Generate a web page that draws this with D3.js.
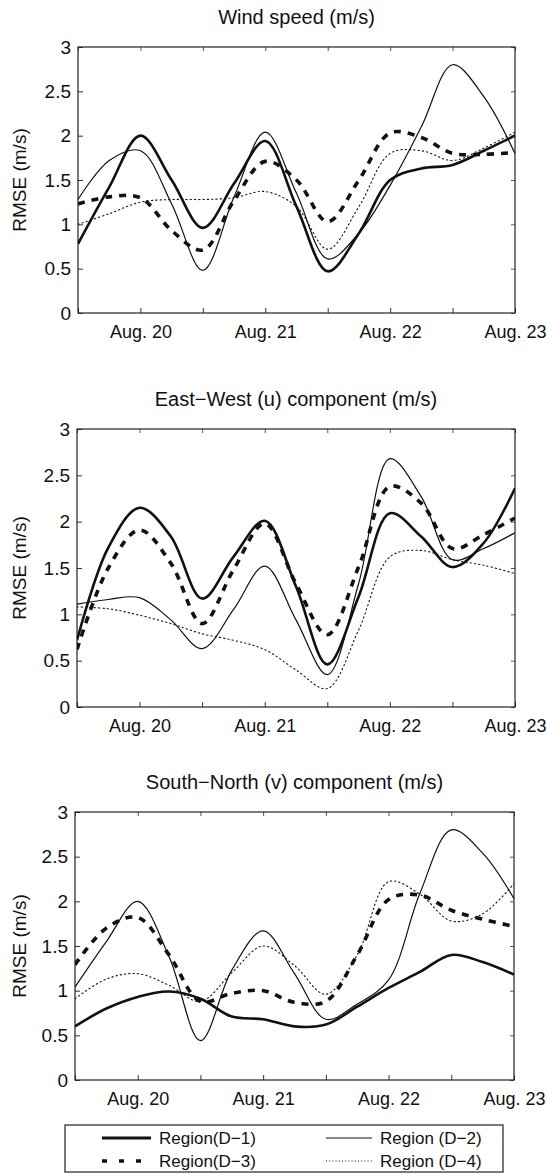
<!DOCTYPE html>
<html>
<head>
<meta charset="utf-8">
<script src="https://cdn.jsdelivr.net/npm/d3@7"></script>
<style>
  html, body { margin: 0; padding: 0; background: #fff; }
  svg { display: block; }
  text { font-family: "Liberation Sans", Arial, Helvetica, sans-serif; fill: #111; }
</style>
</head>
<body>
<svg id="chart" width="547" height="1174"></svg>
<script>
// ---- data (6-hourly samples, days of August) ----
const times = [19.5, 19.75, 20, 20.25, 20.5, 20.75, 21, 21.25, 21.5, 21.75, 22, 22.25, 22.5, 22.75, 23];
const dayTicks = [19.5, 20, 20.5, 21, 21.5, 22, 22.5, 23];
const dayLabels = ["", "Aug. 20", "", "Aug. 21", "", "Aug. 22", "", "Aug. 23"];
const yTicks = [0, 0.5, 1, 1.5, 2, 2.5, 3];
const yTickLabels = ["0", "0.5", "1", "1.5", "2", "2.5", "3"];

const panelTitles = ["Wind speed (m/s)", "East\u2212West (u) component (m/s)", "South\u2212North (v) component (m/s)"];
const seriesNames = ["Region(D\u22121)", "Region (D\u22122)", "Region(D\u22123)", "Region (D\u22124)"];

// Wind speed
const windD1 = [0.78, 1.42, 2.0, 1.5, 0.96, 1.46, 1.94, 1.2, 0.47, 0.9, 1.5, 1.63, 1.67, 1.83, 2.0];
const windD2 = [1.28, 1.72, 1.83, 1.23, 0.48, 1.31, 2.04, 1.35, 0.61, 0.9, 1.44, 2.1, 2.8, 2.44, 1.8];
const windD3 = [1.23, 1.31, 1.3, 0.93, 0.71, 1.27, 1.71, 1.5, 1.03, 1.5, 2.03, 1.98, 1.8, 1.79, 1.81];
const windD4 = [1.0, 1.12, 1.25, 1.28, 1.28, 1.3, 1.37, 1.2, 0.72, 1.2, 1.8, 1.83, 1.72, 1.86, 2.04];
// East-West (u) component
const uD1 = [0.72, 1.72, 2.15, 1.84, 1.17, 1.62, 2.01, 1.3, 0.46, 1.19, 2.09, 1.84, 1.51, 1.77, 2.36];
const uD2 = [1.11, 1.16, 1.18, 0.94, 0.63, 1.05, 1.52, 0.94, 0.35, 1.33, 2.68, 2.27, 1.59, 1.71, 1.88];
const uD3 = [0.62, 1.5, 1.91, 1.55, 0.9, 1.48, 1.98, 1.33, 0.78, 1.51, 2.38, 2.2, 1.71, 1.86, 2.04];
const uD4 = [1.08, 1.06, 0.99, 0.9, 0.79, 0.72, 0.62, 0.4, 0.2, 0.83, 1.62, 1.69, 1.59, 1.53, 1.44];
// South-North (v) component
const vD1 = [0.6, 0.8, 0.93, 0.99, 0.91, 0.71, 0.68, 0.6, 0.62, 0.82, 1.03, 1.21, 1.4, 1.32, 1.18];
const vD2 = [1.04, 1.55, 2.0, 1.38, 0.44, 1.23, 1.67, 1.19, 0.68, 0.85, 1.12, 2.09, 2.8, 2.54, 2.03];
const vD3 = [1.29, 1.7, 1.82, 1.4, 0.88, 0.97, 1.0, 0.87, 0.88, 1.4, 2.02, 2.07, 1.9, 1.8, 1.72];
const vD4 = [0.91, 1.13, 1.19, 1.06, 0.88, 1.2, 1.5, 1.28, 0.96, 1.4, 2.22, 2.08, 1.78, 1.86, 2.2];

const panelData = [
  [windD1, windD2, windD3, windD4],
  [uD1, uD2, uD3, uD4],
  [vD1, vD2, vD3, vD4]
];

// ---- layout & styles ----
const panels = [
  { x0: 78, x1: 515, y0: 47, y1: 313 },
  { x0: 77, x1: 515, y0: 429, y1: 707 },
  { x0: 75, x1: 514, y0: 812, y1: 1080 }
];
const styles = [
  { w: 2.6, dash: null },
  { w: 1.2, dash: null },
  { w: 3.6, dash: "7,7" },
  { w: 1.1, dash: "1.3,3" }
];

const svg = d3.select("#chart");

panels.forEach((p, pi) => {
  const x = d3.scaleLinear().domain([19.5, 23]).range([p.x0, p.x1]);
  const y = d3.scaleLinear().domain([0, 3]).range([p.y1, p.y0]);
  const g = svg.append("g");

  const clipId = "clip" + pi;
  svg.append("clipPath").attr("id", clipId)
    .append("rect").attr("x", p.x0).attr("y", p.y0 - 2)
    .attr("width", p.x1 - p.x0).attr("height", p.y1 - p.y0 + 2);

  // title
  g.append("text")
    .attr("x", (p.x0 + p.x1) / 2).attr("y", p.y0 - 23)
    .attr("text-anchor", "middle").attr("font-size", 20)
    .text(panelTitles[pi]);

  // y label
  g.append("text")
    .attr("transform", `translate(26,${(p.y0 + p.y1) / 2}) rotate(-90)`)
    .attr("text-anchor", "middle").attr("font-size", 19)
    .text("RMSE (m/s)");

  // axes (inward ticks)
  const xAxis = d3.axisBottom(x).tickValues(dayTicks).tickSizeInner(-5).tickSizeOuter(0)
    .tickPadding(12).tickFormat((d, i) => dayLabels[i]);
  const gx = g.append("g").attr("transform", `translate(0,${p.y1})`).call(xAxis);
  gx.select(".domain").remove();
  gx.selectAll("text").attr("font-size", 18).attr("font-family", "Liberation Sans, Arial, sans-serif").attr("fill", "#111");
  gx.selectAll("line").attr("stroke", "#333");

  const xTop = d3.axisTop(x).tickValues(dayTicks).tickSizeInner(-4).tickSizeOuter(0).tickFormat("");
  const gxt = g.append("g").attr("transform", `translate(0,${p.y0})`).call(xTop);
  gxt.select(".domain").remove();
  gxt.selectAll("line").attr("stroke", "#555");

  const yAxis = d3.axisLeft(y).tickValues(yTicks).tickSizeInner(-5).tickSizeOuter(0)
    .tickPadding(7).tickFormat((d, i) => yTickLabels[i]);
  const gy = g.append("g").attr("transform", `translate(${p.x0},0)`).call(yAxis);
  gy.select(".domain").remove();
  gy.selectAll("text").attr("font-size", 19).attr("font-family", "Liberation Sans, Arial, sans-serif").attr("fill", "#111");
  gy.selectAll("line").attr("stroke", "#333");

  const yRight = d3.axisRight(y).tickValues(yTicks).tickSizeInner(-4).tickSizeOuter(0).tickFormat("");
  const gyr = g.append("g").attr("transform", `translate(${p.x1},0)`).call(yRight);
  gyr.select(".domain").remove();
  gyr.selectAll("line").attr("stroke", "#555");

  // frame
  g.append("rect").attr("x", p.x0).attr("y", p.y0)
    .attr("width", p.x1 - p.x0).attr("height", p.y1 - p.y0)
    .attr("fill", "none").attr("stroke", "#222").attr("stroke-width", 1.2);

  // lines
  const line = d3.line().x((d, i) => x(times[i])).y(d => y(d)).curve(d3.curveCatmullRom.alpha(0.5));
  const order = [3, 1, 2, 0];
  order.forEach(si => {
    const s = styles[si];
    g.append("path")
      .attr("clip-path", `url(#${clipId})`)
      .attr("d", line(panelData[pi][si]))
      .attr("fill", "none").attr("stroke", "#111")
      .attr("stroke-width", s.w)
      .attr("stroke-dasharray", s.dash)
      .attr("stroke-linecap", si === 3 ? "round" : "butt");
  });
});

// ---- legend ----
const lg = svg.append("g");
lg.append("rect").attr("x", 65).attr("y", 1125).attr("width", 438).attr("height", 47)
  .attr("fill", "none").attr("stroke", "#222").attr("stroke-width", 1.2);
const legendPos = [
  { lx0: 102, lx1: 151, y: 1138, tx: 159 },
  { lx0: 326, lx1: 372, y: 1138, tx: 380 },
  { lx0: 102, lx1: 151, y: 1161, tx: 159 },
  { lx0: 326, lx1: 372, y: 1161, tx: 380 }
];
const legendStyles = [
  { w: 2.8, dash: null },
  { w: 1.2, dash: null },
  { w: 3.6, dash: "5,12" },
  { w: 1.1, dash: "1,2.2" }
];
seriesNames.forEach((name, i) => {
  const lp = legendPos[i], s = legendStyles[i];
  lg.append("line").attr("x1", lp.lx0).attr("x2", lp.lx1).attr("y1", lp.y).attr("y2", lp.y)
    .attr("stroke", "#111").attr("stroke-width", s.w).attr("stroke-dasharray", s.dash);
  lg.append("text").attr("x", lp.tx).attr("y", lp.y + 6).attr("font-size", 17).text(name);
});
</script>
</body>
</html>
